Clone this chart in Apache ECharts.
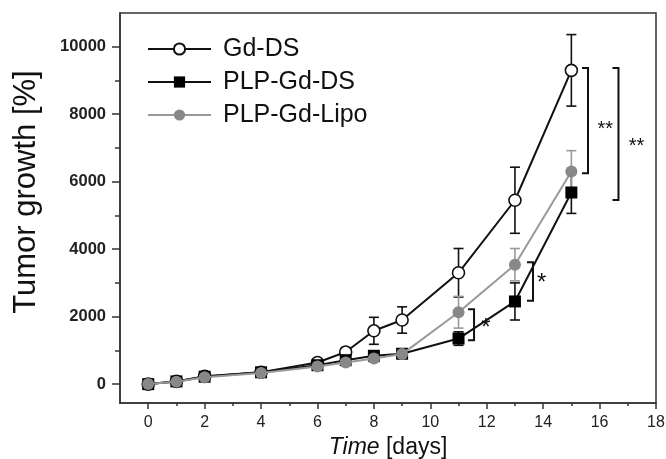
<!DOCTYPE html>
<html>
<head>
<meta charset="utf-8">
<script src="https://cdn.jsdelivr.net/npm/echarts@6/dist/echarts.min.js"></script>
<style>html,body{margin:0;padding:0;background:#fff;}#c{width:666px;height:459px;}</style>
</head>
<body>
<div id="c"></div>
<script>
const days = [0, 1, 2, 4, 6, 7, 8, 9, 11, 13, 15];
const gdDs = [0, 80, 230, 350, 640, 950, 1580, 1900, 3300, 5450, 9300];
const gdDsErr = [40, 60, 80, 80, 100, 130, 400, 390, 720, 980, 1060];
const plpDs = [0, 80, 220, 350, 560, 710, 840, 900, 1350, 2450, 5680];
const plpDsErr = [40, 60, 100, 90, 100, 100, 120, 100, 200, 550, 620];
const lipo = [0, 70, 200, 330, 520, 640, 760, 890, 2130, 3540, 6300];
const lipoErr = [40, 60, 80, 80, 80, 80, 100, 100, 470, 480, 620];
const xTickLabels = [0, 2, 4, 6, 8, 10, 12, 14, 16, 18];
const xMinorTicks = [1, 3, 5, 7, 9, 11, 13, 15, 17];
const yTickLabels = [0, 2000, 4000, 6000, 8000, 10000];
const yMinorTicks = [1000, 3000, 5000, 7000, 9000];
// significance brackets: [x, yLow, yHigh]
const brackets = [[11.55, 1300, 2220], [13.64, 2470, 3610], [15.59, 6250, 9370], [16.67, 5460, 9370]];
// significance labels: [x, y, text]
const sigLabels = [[11.97, 1810, '*'], [13.95, 3145, '*'], [16.2, 7665, '**'], [17.31, 7160, '**']];

const FONT = 'Liberation Sans, Arial, Helvetica, sans-serif';

function pts(vals) { return days.map((d, i) => [d, vals[i]]); }
function errData(vals, errs) { return days.map((d, i) => [d, vals[i] - errs[i], vals[i] + errs[i]]); }

function errSeries(vals, errs, color, z) {
  return {
    type: 'custom', z: z, silent: true,
    data: errData(vals, errs),
    renderItem: function (params, api) {
      const top = api.coord([api.value(0), api.value(2)]);
      const bot = api.coord([api.value(0), api.value(1)]);
      const hw = 5;
      const st = { stroke: color, lineWidth: 1.6 };
      return { type: 'group', children: [
        { type: 'line', shape: { x1: top[0], y1: top[1], x2: bot[0], y2: bot[1] }, style: st },
        { type: 'line', shape: { x1: top[0] - hw, y1: top[1], x2: top[0] + hw, y2: top[1] }, style: st },
        { type: 'line', shape: { x1: bot[0] - hw, y1: bot[1], x2: bot[0] + hw, y2: bot[1] }, style: st }
      ]};
    }
  };
}

const chart = echarts.init(document.getElementById('c'), null, { renderer: 'canvas' });
const axisLineStyle = { color: '#333', width: 1.5 };
chart.setOption({
  animation: false,
  backgroundColor: '#fff',
  grid: { left: 120, right: 10, top: 13, bottom: 56, outerBoundsMode: 'none', containLabel: false, show: true, borderColor: '#333', borderWidth: 1.5, backgroundColor: 'transparent' },
  legend: {
    left: 147, top: 36, orient: 'vertical', padding: 0,
    itemWidth: 63, itemHeight: 14, itemGap: 7,
    textStyle: { fontFamily: FONT, fontSize: 25, color: '#111', lineHeight: 26, padding: [0, 0, 0, 7] },
    data: ['Gd-DS', 'PLP-Gd-DS', 'PLP-Gd-Lipo']
  },
  xAxis: [
    {
      type: 'value', min: -1, max: 18, position: 'bottom',
      name: '{i|Time} [days]', nameLocation: 'middle', nameGap: 31,
      nameTextStyle: { fontFamily: FONT, fontSize: 23, color: '#111', rich: { i: { fontStyle: 'italic', fontFamily: FONT, fontSize: 23, color: '#111' } } },
      axisLine: { show: true, onZero: false, lineStyle: axisLineStyle },
      axisTick: { show: true, length: 6, customValues: xTickLabels, lineStyle: axisLineStyle },
      axisLabel: { customValues: xTickLabels, fontFamily: FONT, fontSize: 16, color: '#222', margin: 12 },
      splitLine: { show: false }
    },
    {
      type: 'value', min: -1, max: 18, position: 'bottom', offset: 0,
      axisLine: { show: false, onZero: false },
      axisTick: { show: true, length: 3, customValues: xMinorTicks, lineStyle: axisLineStyle },
      axisLabel: { show: false },
      splitLine: { show: false }
    }
  ],
  yAxis: [
    {
      type: 'value', min: -560, max: 11000, position: 'left',
      name: 'Tumor growth [%]', nameLocation: 'middle', nameGap: 78,
      nameTextStyle: { fontFamily: FONT, fontSize: 31, color: '#111', padding: [0, 0, 0, 32] },
      axisLine: { show: true, onZero: false, lineStyle: axisLineStyle },
      axisTick: { show: true, length: 8, customValues: yTickLabels, lineStyle: axisLineStyle },
      axisLabel: { customValues: yTickLabels, formatter: function (v) { return String(v); }, fontFamily: FONT, fontSize: 16.5, fontWeight: 'bold', color: '#222', margin: 14 },
      splitLine: { show: false }
    },
    {
      type: 'value', min: -560, max: 11000, position: 'left', offset: 0,
      axisLine: { show: false, onZero: false },
      axisTick: { show: true, length: 5, customValues: yMinorTicks, lineStyle: axisLineStyle },
      axisLabel: { show: false },
      splitLine: { show: false }
    }
  ],
  series: [
    errSeries(gdDs, gdDsErr, '#111', 3),
    errSeries(plpDs, plpDsErr, '#111', 3),
    errSeries(lipo, lipoErr, '#999', 3),
    {
      name: 'Gd-DS', type: 'line', z: 4, data: pts(gdDs),
      symbol: 'circle', symbolSize: 12,
      lineStyle: { color: '#111', width: 2 },
      itemStyle: { color: '#fff', borderColor: '#111', borderWidth: 1.6 }
    },
    {
      name: 'PLP-Gd-DS', type: 'line', z: 5, data: pts(plpDs),
      symbol: 'rect', symbolSize: 12,
      lineStyle: { color: '#111', width: 2 },
      itemStyle: { color: '#000', borderColor: '#000', borderWidth: 0 }
    },
    {
      name: 'PLP-Gd-Lipo', type: 'line', z: 6, data: pts(lipo),
      symbol: 'circle', symbolSize: 12,
      lineStyle: { color: '#999', width: 2 },
      itemStyle: { color: '#888', borderColor: '#888', borderWidth: 0 }
    },
    {
      type: 'custom', z: 7, silent: true, data: brackets,
      renderItem: function (params, api) {
        const a = api.coord([api.value(0), api.value(2)]);
        const b = api.coord([api.value(0), api.value(1)]);
        const arm = 6;
        return { type: 'polyline', shape: { points: [[a[0] - arm, a[1]], [a[0], a[1]], [b[0], b[1]], [b[0] - arm, b[1]]] },
          style: { stroke: '#111', lineWidth: 2, fill: null } };
      }
    },
    {
      type: 'custom', z: 7, silent: true, data: sigLabels,
      renderItem: function (params, api) {
        const p = api.coord([api.value(0), api.value(1)]);
        const t = sigLabels[params.dataIndex][2];
        return { type: 'text', x: p[0], y: p[1] + (t === '*' ? 5 : 4),
          style: { text: t, fontFamily: FONT, fontSize: t === '*' ? 24 : 20, fill: '#111', align: 'center', verticalAlign: 'middle' } };
      }
    }
  ]
});
</script>
</body>
</html>
